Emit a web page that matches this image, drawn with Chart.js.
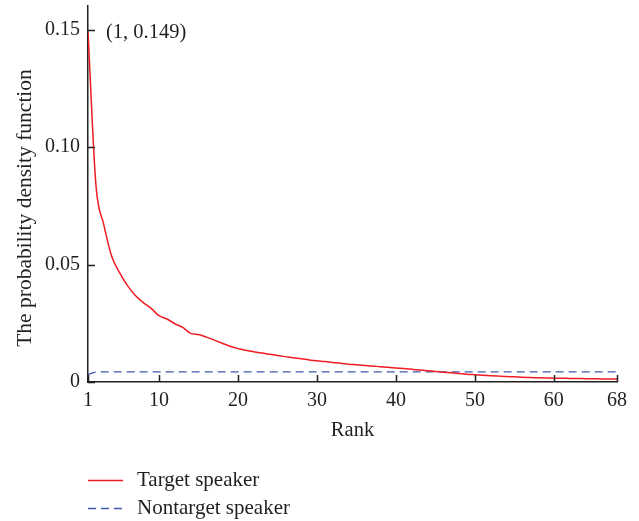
<!DOCTYPE html>
<html>
<head>
<meta charset="utf-8">
<script src="https://cdn.jsdelivr.net/npm/chart.js@4"></script>
<style>
  html, body { margin: 0; padding: 0; background: #ffffff; }
  #wrap { width: 639px; height: 521px; position: relative; }
</style>
</head>
<body>
<div id="wrap"><canvas id="c" width="639" height="521"></canvas></div>
<script>
const ranks = [1,2,3,4,5,6,7,8,9,10,11,12,13,14,15,16,17,18,19,20,21,22,23,24,25,26,27,28,29,30,31,32,33,34,35,36,37,38,39,40,41,42,43,44,45,46,47,48,49,50,51,52,53,54,55,56,57,58,59,60,61,62,63,64,65,66,67,68];
const targetSpeaker = [0.149,0.084,0.067,0.0535,0.0465,0.041,0.0368,0.0338,0.0313,0.0282,0.0268,0.0248,0.0232,0.0207,0.0202,0.0191,0.0178,0.0165,0.0152,0.0142,0.0135,0.0129,0.0123,0.0118,0.0113,0.0108,0.0103,0.0099,0.0094,0.0090,0.0087,0.0083,0.0080,0.0076,0.0073,0.0070,0.0068,0.0065,0.0063,0.0060,0.0057,0.0054,0.0051,0.0048,0.0045,0.0042,0.0039,0.0036,0.0033,0.0031,0.0029,0.0027,0.0025,0.0023,0.0022,0.0020,0.0019,0.0018,0.0017,0.0016,0.0016,0.0015,0.0015,0.0014,0.0014,0.0013,0.0013,0.0013];
const nontargetSpeaker = [0.0032,0.0042,0.0043,0.0043,0.0043,0.0043,0.0043,0.0043,0.0043,0.0043,0.0043,0.0043,0.0043,0.0043,0.0043,0.0043,0.0043,0.0043,0.0043,0.0043,0.0043,0.0043,0.0043,0.0043,0.0043,0.0043,0.0043,0.0043,0.0043,0.0043,0.0043,0.0043,0.0043,0.0043,0.0043,0.0043,0.0043,0.0043,0.0043,0.0043,0.0043,0.0043,0.0043,0.0043,0.0043,0.0043,0.0043,0.0043,0.0043,0.0043,0.0043,0.0043,0.0043,0.0043,0.0043,0.0043,0.0043,0.0043,0.0043,0.0043,0.0043,0.0043,0.0043,0.0043,0.0043,0.0043,0.0043,0.0043];
const xTickValues = [1,10,20,30,40,50,60,68];
const yTickValues = [0,0.05,0.10,0.15];
const yTickLabels = ['0','0.05','0.10','0.15'];
const seriesLabels = ['Target speaker','Nontarget speaker'];
const xTitle = 'Rank';
const yTitle = 'The probability density function';
const peakLabel = '(1, 0.149)';

const FONT = "'Liberation Serif', 'DejaVu Serif', serif";
const TXT = '#231f20';

const toPoints = (xs, ys) => xs.map((x, i) => ({x: x, y: ys[i]}));

const innerTicks = {
  id: 'innerTicks',
  afterDatasetsDraw(chart) {
    const ctx = chart.ctx;
    const xs = chart.scales.x, ys = chart.scales.y;
    const ca = chart.chartArea;
    ctx.save();
    ctx.strokeStyle = '#231f20';
    ctx.lineWidth = 1.5;
    ctx.beginPath();
    xTickValues.forEach(v => {
      const px = Math.round(xs.getPixelForValue(v)) + 0.5;
      ctx.moveTo(px, ca.bottom);
      ctx.lineTo(px, ca.bottom - 7);
    });
    yTickValues.forEach(v => {
      const py = Math.round(ys.getPixelForValue(v)) + 0.5;
      ctx.moveTo(ca.left, py);
      ctx.lineTo(ca.left + 7, py);
    });
    ctx.stroke();
    // annotation
    const ax = xs.getPixelForValue(ranks[0]);
    const ay = ys.getPixelForValue(targetSpeaker[0]);
    ctx.fillStyle = TXT;
    ctx.font = '20.5px ' + FONT;
    ctx.textBaseline = 'middle';
    ctx.textAlign = 'left';
    ctx.fillText(peakLabel, ax + 18, ay + 1);
    // y axis title
    ctx.save();
    ctx.translate(25, 208);
    ctx.rotate(-Math.PI / 2);
    ctx.font = '21.5px ' + FONT;
    ctx.textAlign = 'center';
    ctx.textBaseline = 'middle';
    ctx.fillText(yTitle, 0, 0);
    ctx.restore();
    ctx.restore();
  }
};

const customLegend = {
  id: 'customLegend',
  afterDraw(chart) {
    const ctx = chart.ctx;
    const left = chart.chartArea.left;
    ctx.save();
    ctx.font = '21px ' + FONT;
    ctx.textBaseline = 'alphabetic';
    ctx.textAlign = 'left';
    chart.data.datasets.forEach((ds, i) => {
      const y = 480.5 + i * 28;
      ctx.strokeStyle = ds.borderColor;
      ctx.lineWidth = 1.5;
      ctx.setLineDash(ds.borderDash || []);
      ctx.beginPath();
      ctx.moveTo(left, y);
      ctx.lineTo(left + 35, y);
      ctx.stroke();
      ctx.setLineDash([]);
      ctx.fillStyle = TXT;
      ctx.fillText(ds.label, left + 49, y + 5.5);
    });
    ctx.restore();
  }
};

new Chart(document.getElementById('c'), {
  type: 'line',
  data: {
    datasets: [
      {
        label: seriesLabels[0],
        data: toPoints(ranks, targetSpeaker),
        borderColor: '#f01c24',
        borderWidth: 1.5,
        pointRadius: 0,
        cubicInterpolationMode: 'monotone',
        fill: false
      },
      {
        label: seriesLabels[1],
        data: toPoints(ranks, nontargetSpeaker),
        borderColor: '#4058ad',
        borderWidth: 1.4,
        borderDash: [8, 5],
        pointRadius: 0,
        cubicInterpolationMode: 'monotone',
        fill: false
      }
    ]
  },
  options: {
    responsive: false,
    animation: false,
    layout: { padding: { top: 6, right: 22, bottom: 70, left: 0 } },
    plugins: { legend: { display: false }, tooltip: { enabled: false } },
    scales: {
      x: {
        type: 'linear',
        min: 1,
        max: 68,
        afterBuildTicks: s => { s.ticks = xTickValues.map(v => ({value: v})); },
        afterFit: s => { s.height = 69; s.paddingLeft = 0; s.paddingRight = 0; },
        grid: { display: false, drawTicks: false },
        border: { display: true, color: '#231f20', width: 1.5 },
        ticks: {
          font: { family: FONT, size: 20 },
          color: TXT,
          padding: 7,
          maxRotation: 0,
          autoSkip: false,
          callback: v => String(v)
        },
        title: {
          display: true,
          text: xTitle,
          font: { family: FONT, size: 20.5 },
          color: TXT,
          padding: { top: 0, bottom: 8 }
        }
      },
      y: {
        type: 'linear',
        min: 0,
        max: 0.16,
        afterBuildTicks: s => { s.ticks = yTickValues.map(v => ({value: v})); },
        afterFit: s => { s.width = 88; s.paddingTop = 0; s.paddingBottom = 0; },
        grid: { display: false, drawTicks: false },
        border: { display: true, color: '#231f20', width: 1.5 },
        ticks: {
          font: { family: FONT, size: 20 },
          color: TXT,
          padding: 8,
          autoSkip: false,
          callback: (v, i) => yTickLabels[i]
        },
        title: { display: false }
      }
    }
  },
  plugins: [innerTicks, customLegend]
});
</script>
</body>
</html>
